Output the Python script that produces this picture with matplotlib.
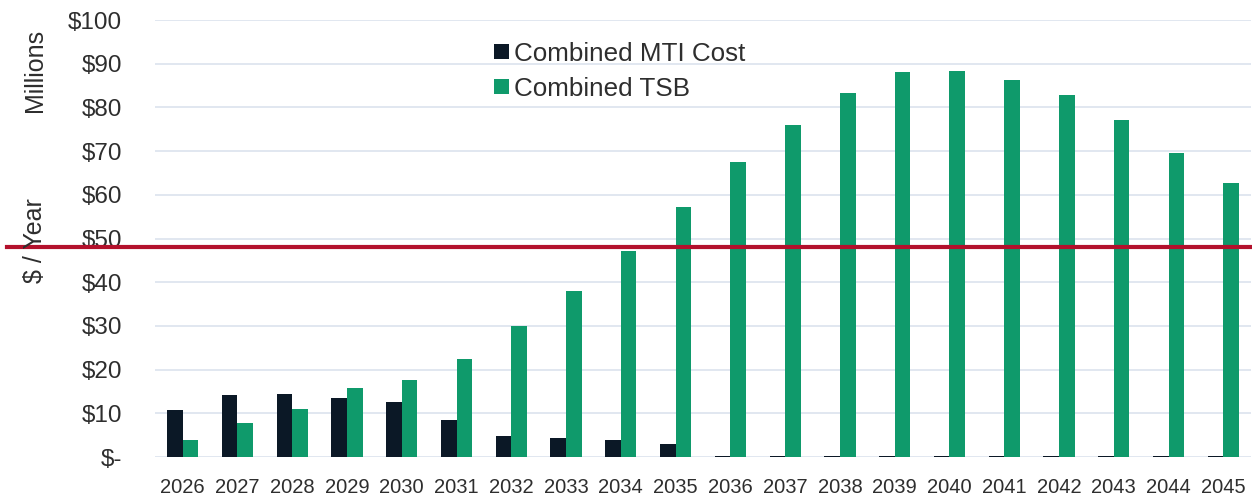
import numpy as np
import matplotlib
matplotlib.use("Agg")
import matplotlib.pyplot as plt

plt.rcParams['font.family'] = ['Liberation Sans', 'DejaVu Sans']

# data ($ millions per year)
years = [str(y) for y in range(2026, 2046)]
mti_cost = [10.8, 14.2, 14.4, 13.4, 12.5, 8.5, 4.8, 4.3, 3.9, 2.9,
            0.2, 0.2, 0.2, 0.2, 0.2, 0.2, 0.2, 0.2, 0.2, 0.2]
tsb = [3.9, 7.7, 11.1, 15.9, 17.7, 22.4, 30.0, 38.1, 47.1, 57.2,
       67.5, 76.0, 83.3, 88.1, 88.3, 86.3, 82.8, 77.1, 69.6, 62.7]
ytick_vals = [0, 10, 20, 30, 40, 50, 60, 70, 80, 90, 100]
ytick_labels = ['$-'] + ['$%d' % v for v in ytick_vals[1:]]
red_line_level = 48.0

dark = '#0b1826'
green = '#0f9a6b'
text_col = '#2e2e2e'

fig = plt.figure(figsize=(12.52, 4.96), dpi=100)
ax = fig.add_axes([0.124, 0.0786, 0.875, 0.881])

x = np.arange(len(years))
w = 0.285
ax.bar(x - w/2, mti_cost, w, color=dark, label='Combined MTI Cost', zorder=3)
ax.bar(x + w/2, tsb, w, color=green, label='Combined TSB', zorder=3)

ax.set_xlim(-0.5, len(years) - 0.5)
ax.set_ylim(0, 100)
ax.set_yticks(ytick_vals)
ax.set_yticklabels(ytick_labels)
ax.set_xticks(x)
ax.set_xticklabels(years)
ax.grid(axis='y', color='#dce3ee', linewidth=1.2, zorder=0)
for s in ax.spines.values():
    s.set_visible(False)
ax.tick_params(axis='y', length=0, pad=24, labelsize=17.5, labelcolor=text_col)
ax.tick_params(axis='x', length=0, pad=15, labelsize=14.5, labelcolor=text_col)

fig.text(0.028, 0.858, 'Millions', rotation=90, ha='center', va='center',
         fontsize=18, color=text_col)
fig.text(0.028, 0.516, '$ / Year', rotation=90, ha='center', va='center',
         fontsize=18, color=text_col)

leg = ax.legend(loc='upper left', bbox_to_anchor=(0.3, 0.974), frameon=False,
                fontsize=18.7, handlelength=0.55, handleheight=0.55,
                handletextpad=0.2, labelspacing=0.42, borderaxespad=0)
for t in leg.get_texts():
    t.set_color(text_col)

# red reference line across the whole figure
ax.axhline(red_line_level, xmin=-0.135, xmax=1.01, color='#b3112c',
           linewidth=3, clip_on=False, zorder=5)

fig.savefig('out.png', dpi=100)
